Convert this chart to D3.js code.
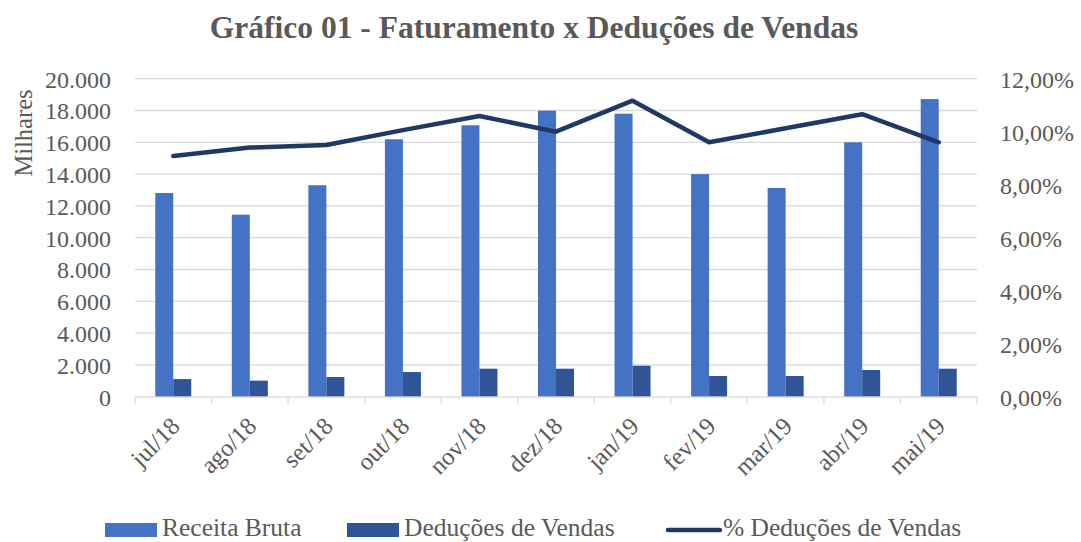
<html>
<head>
<meta charset="utf-8">
<script src="https://d3js.org/d3.v7.min.js"></script>
<style>
  body { margin: 0; background: #fff; }
  text { font-family: "Liberation Serif", "DejaVu Serif", serif; fill: #595959; }
</style>
</head>
<body>
<div id="chart_area"></div>
<script>
    // data
    let months = ["jul/18","ago/18","set/18","out/18","nov/18","dez/18","jan/19","fev/19","mar/19","abr/19","mai/19"];
    let receita = [12810, 11450, 13300, 16190, 17070, 17990, 17800, 14000, 13130, 16000, 18720];
    let deducoes = [1110, 1010, 1240, 1550, 1760, 1760, 1950, 1300, 1300, 1680, 1760];
    let pctDeducoes = [9.08, 9.40, 9.50, 10.06, 10.59, 10.00, 11.17, 9.60, 10.13, 10.66, 9.60];
    let leftTicks = [0, 2000, 4000, 6000, 8000, 10000, 12000, 14000, 16000, 18000, 20000];
    let rightTicks = [0, 2, 4, 6, 8, 10, 12];

    let width = 1081;
    let height = 542;
    let svg = d3.select("#chart_area").append("svg")
        .attr("width", width)
        .attr("height", height);

    let pLeft = 135, pRight = 977, pTop = 78.7, pBottom = 396.7;

    let x = d3.scaleBand().domain(months).range([pLeft, pRight]).padding(0);
    let yL = d3.scaleLinear().domain([0, 20000]).range([pBottom, pTop]);
    let yR = d3.scaleLinear().domain([0, 12]).range([pBottom, pTop]);

    let fmtL = d => d3.format(",")(d).replace(/,/g, ".");
    let fmtR = d => d.toFixed(2).replace(".", ",") + "%";

    // title
    svg.append("text")
        .attr("x", 534).attr("y", 38)
        .attr("text-anchor", "middle")
        .style("font-size", "31.5px").style("font-weight", "bold")
        .text("Gráfico 01 - Faturamento x Deduções de Vendas");

    // gridlines
    svg.selectAll(".grid")
        .data(leftTicks.slice(1))
        .join("line")
        .attr("class", "grid")
        .attr("x1", pLeft).attr("x2", pRight)
        .attr("y1", d => yL(d)).attr("y2", d => yL(d))
        .attr("stroke", "#d9d9d9").attr("stroke-width", 1.3);

    // left axis
    let axL = svg.append("g").attr("transform", `translate(${pLeft},0)`)
        .call(d3.axisLeft(yL).tickValues(leftTicks).tickFormat(fmtL).tickSize(0).tickPadding(24));
    axL.select(".domain").remove();
    axL.selectAll("text").style("font-size", "24px").attr("fill", "#595959").attr("dy", "0.35em")
        .style("font-family", "Liberation Serif");

    // right axis
    let axR = svg.append("g").attr("transform", `translate(${pRight},0)`)
        .call(d3.axisRight(yR).tickValues(rightTicks).tickFormat(fmtR).tickSize(0).tickPadding(23));
    axR.select(".domain").remove();
    axR.selectAll("text").style("font-size", "24px").attr("fill", "#595959").attr("dy", "0.35em")
        .style("font-family", "Liberation Serif");

    // y title
    svg.append("text")
        .attr("transform", "translate(32,133) rotate(-90)")
        .attr("text-anchor", "middle")
        .style("font-size", "24.5px")
        .text("Milhares");

    // bars
    let barW = 18;
    svg.selectAll(".rb")
        .data(receita)
        .join("rect")
        .attr("class", "rb")
        .attr("x", (d, i) => x(months[i]) + x.bandwidth() / 2 - barW)
        .attr("y", d => yL(d))
        .attr("width", barW)
        .attr("height", d => pBottom - yL(d))
        .attr("fill", "#4472c4");

    svg.selectAll(".dv")
        .data(deducoes)
        .join("rect")
        .attr("class", "dv")
        .attr("x", (d, i) => x(months[i]) + x.bandwidth() / 2)
        .attr("y", d => yL(d))
        .attr("width", barW)
        .attr("height", d => pBottom - yL(d))
        .attr("fill", "#2f5597");

    // x axis
    let axB = svg.append("g").attr("transform", `translate(0,${pBottom})`)
        .call(d3.axisBottom(x).tickSize(0).tickFormat(""));
    axB.select(".domain").attr("stroke", "#d9d9d9").attr("stroke-width", 1.3);
    let bounds = months.map(m => x(m)).concat([pRight]);
    svg.selectAll(".xt")
        .data(bounds)
        .join("line")
        .attr("class", "xt")
        .attr("x1", d => d).attr("x2", d => d)
        .attr("y1", pBottom).attr("y2", pBottom + 7)
        .attr("stroke", "#d9d9d9").attr("stroke-width", 1.3);

    svg.selectAll(".xl")
        .data(months)
        .join("text")
        .attr("class", "xl")
        .attr("text-anchor", "end")
        .attr("transform", d => `translate(${x(d) + x.bandwidth() / 2 + 8},${pBottom + 31}) rotate(-45)`)
        .style("font-size", "24.5px")
        .text(d => d);

    // line
    let line = d3.line()
        .x((d, i) => x(months[i]) + x.bandwidth() / 2)
        .y(d => yR(d));
    svg.append("path")
        .datum(pctDeducoes)
        .attr("d", line)
        .attr("fill", "none")
        .attr("stroke", "#203864")
        .attr("stroke-width", 4.5)
        .attr("stroke-linecap", "round")
        .attr("stroke-linejoin", "round");

    // legend
    let lg = svg.append("g");
    lg.append("rect").attr("x", 105).attr("y", 523).attr("width", 52).attr("height", 14).attr("fill", "#4472c4");
    lg.append("text").attr("x", 162).attr("y", 536).style("font-size", "25.5px").text("Receita Bruta");
    lg.append("rect").attr("x", 347).attr("y", 523).attr("width", 52).attr("height", 14).attr("fill", "#2f5597");
    lg.append("text").attr("x", 404).attr("y", 536).style("font-size", "25.5px").text("Deduções de Vendas");
    lg.append("line").attr("x1", 668).attr("x2", 720).attr("y1", 530).attr("y2", 530)
        .attr("stroke", "#203864").attr("stroke-width", 4.5).attr("stroke-linecap", "round");
    lg.append("text").attr("x", 723).attr("y", 536).style("font-size", "25.5px").text("% Deduções de Vendas");
</script>
</body>
</html>
